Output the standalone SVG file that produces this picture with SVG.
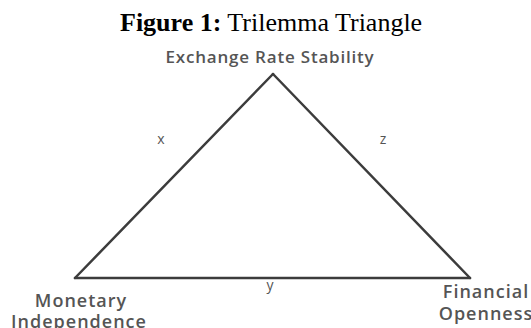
<svg xmlns="http://www.w3.org/2000/svg" width="531" height="328" viewBox="0 0 531 328">
<style>
.title{font-family:"Liberation Serif","Times New Roman",serif;font-size:26px;fill:#000}
.lbl{font-family:"Open Sans","Noto Sans",sans-serif;font-size:17px;font-weight:600;fill:#555;letter-spacing:0.8px;text-anchor:middle}
.big{font-size:18px;letter-spacing:1px}
.edge{stroke:#3c3c3c;stroke-width:2.5;fill:none;stroke-linecap:round}
.elbl{font-family:"Open Sans","Noto Sans",sans-serif;font-size:14px;fill:#555;text-anchor:middle}
</style>
<rect width="531" height="328" fill="#fff"/>
<text class="title" x="120" y="31"><tspan font-weight="bold">Figure 1:</tspan> Trilemma Triangle</text>
<g id="connectors">
<line class="edge" x1="273" y1="74" x2="75" y2="278"/>
<line class="edge" x1="273" y1="74" x2="470" y2="278"/>
<line class="edge" x1="75" y1="278" x2="470" y2="278"/>
<text class="elbl" x="161" y="144">x</text>
<text class="elbl" x="383" y="144">z</text>
<text class="elbl" x="270" y="290">y</text>
</g>
<g id="node-exchange">
<text class="lbl" x="270" y="63">Exchange Rate Stability</text>
</g>
<g id="node-monetary">
<text class="lbl big" x="81" y="307">Monetary</text>
<text class="lbl big" x="79" y="328">Independence</text>
</g>
<g id="node-financial">
<text class="lbl big" x="486" y="298">Financial</text>
<text class="lbl big" x="486" y="320">Openness</text>
</g>
</svg>
